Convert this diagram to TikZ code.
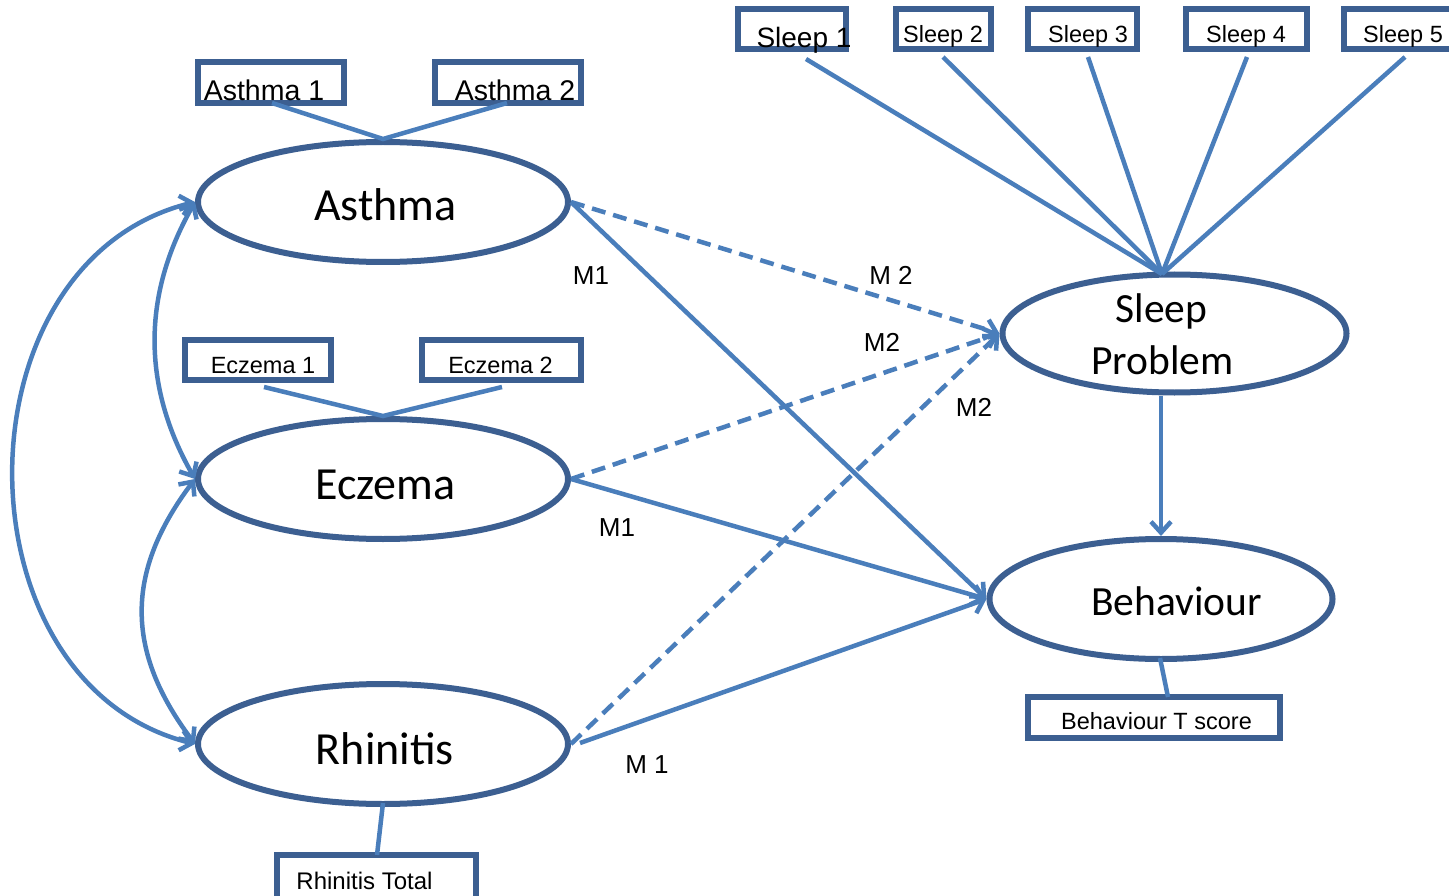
\documentclass[tikz,border=0pt]{standalone}
\usepackage{fontspec}
\setmainfont{Liberation Sans}
\newfontfamily\calfont{Carlito}
\usetikzlibrary{arrows.meta,shapes.geometric}
\definecolor{dk}{RGB}{60,95,145}
\definecolor{ln}{RGB}{74,126,187}
\begin{document}
\begin{tikzpicture}[x=1pt,y=-1pt,
  lat/.style={ellipse,draw=dk,line width=6pt,inner sep=0pt},
  obs/.style={rectangle,draw=dk,line width=5.5pt,inner sep=0pt},
  conn/.style={draw=ln,line width=4.5pt},
  tip/.tip={Straight Barb[length=11pt,width=20pt]},
  arr/.style={conn,-tip},
  bidir/.style={conn,tip-tip},
  dsh/.style={arr,dash pattern=on 14pt off 8pt},
  lbl/.style={anchor=base,inner sep=0pt,font=\fontsize{26}{30}\selectfont},
  btxt/.style={anchor=base,inner sep=0pt,font=\fontsize{23.5}{27}\selectfont},
  bigtxt/.style={anchor=base,inner sep=0pt,font=\fontsize{28.5}{32}\selectfont},
  etxt/.style={anchor=base,inner sep=0pt,font=\calfont\fontsize{46}{50}\selectfont},
  stxt/.style={anchor=base,inner sep=0pt,font=\calfont\fontsize{41.5}{45}\selectfont}]
\clip (0,0) rectangle (1449,896);
\fill[white] (0,0) rectangle (1449,896);

% latent ellipses
\node[lat,minimum width=370pt,minimum height=120pt] (asthma) at (383,202) {};
\node[lat,minimum width=370pt,minimum height=120pt] (eczema) at (383,479) {};
\node[lat,minimum width=370pt,minimum height=120pt] (rhinitis) at (383,744) {};
\node[lat,minimum width=344pt,minimum height=118pt] (sleep) at (1174.5,333.5) {};
\node[lat,minimum width=343pt,minimum height=120pt] (beh) at (1161,599) {};

\node[etxt] (asthmat) at (385.5,221) {Asthma};
\node[etxt] (eczemat) at (385.5,499) {Eczema};
\node[etxt] (rhinitist) at (385,764) {Rhinitis};
\node[stxt] (sleept1) at (1161.5,323) {Sleep};
\node[stxt] (sleept2) at (1162.5,374) {Problem};
\node[stxt] (beht) at (1176.5,615) {Behaviour};

% observed boxes
\node[obs,minimum width=108pt,minimum height=40pt] (s1) at (792,29) {};
\node[obs,minimum width=95pt,minimum height=40pt] (s2) at (943.5,29) {};
\node[obs,minimum width=109pt,minimum height=40pt] (s3) at (1082.5,29) {};
\node[obs,minimum width=121pt,minimum height=40pt] (s4) at (1246.5,29) {};
\node[obs,minimum width=126pt,minimum height=40pt] (s5) at (1407,29) {};
\node[obs,minimum width=146pt,minimum height=41pt] (a1) at (271,82.5) {};
\node[obs,minimum width=146pt,minimum height=41pt] (a2) at (508,82.5) {};
\node[obs,minimum width=146pt,minimum height=40pt] (e1) at (258,360) {};
\node[obs,minimum width=159pt,minimum height=40pt] (e2) at (501.5,360) {};
\node[obs,minimum width=252pt,minimum height=41pt] (bt) at (1154,717.5) {};
\node[obs,minimum width=199pt,minimum height=60pt] (rt) at (376.5,885) {};

\node[bigtxt,font=\fontsize{28}{32}\selectfont] (s1t) at (804,48) {Sleep 1};
\node[btxt] (s2t) at (943,43) {Sleep 2};
\node[btxt] (s3t) at (1088,43) {Sleep 3};
\node[btxt] (s4t) at (1246,43) {Sleep 4};
\node[btxt] (s5t) at (1403,43) {Sleep 5};
\node[bigtxt] (a1t) at (264,101) {Asthma 1};
\node[bigtxt] (a2t) at (515,101) {Asthma 2};
\node[btxt] (e1t) at (263,373) {Eczema 1};
\node[btxt] (e2t) at (500.5,373) {Eczema 2};
\node[btxt] (btt) at (1156.5,729) {Behaviour T score};
\node[btxt,font=\fontsize{24}{28}\selectfont] (rtt) at (364.5,889) {Rhinitis Total};

% indicator line end points
\coordinate (s1b) at (806,59);
\coordinate (s2b) at (943,57);
\coordinate (s3b) at (1088,57);
\coordinate (s4b) at (1247,57);
\coordinate (s5b) at (1405,57);
\coordinate (sp) at (1162,274);
\coordinate (a1b) at (272,103);
\coordinate (a2b) at (507,103);
\coordinate (e1b) at (264,387);
\coordinate (e2b) at (502,387);
\coordinate (behb) at (1160,658);
\coordinate (btt0) at (1168,697);
\coordinate (rhb) at (383,803);
\coordinate (rtt0) at (377,855);
\coordinate (rhe) at (580,743);

\foreach \c in {s1b,s2b,s3b,s4b,s5b} \draw[conn] (\c) -- (sp);
\draw[conn] (a1b) -- (asthma.north) -- (a2b);
\draw[conn] (e1b) -- (eczema.north) -- (e2b);
\draw[conn] (behb) -- (btt0);
\draw[conn] (rhb) -- (rtt0);

% structural paths
\draw[arr] (asthma.east) -- (beh.west);
\draw[arr] (eczema.east) -- (beh.west);
\draw[arr] (rhe) -- (beh.west);
\draw[dsh] (asthma.east) -- (sleep.west);
\draw[dsh] (eczema.east) -- (sleep.west);
\draw[dsh] (rhinitis.east) -- (sleep.west);
\draw[arr] (sleep.south -| beh.north) -- (beh.north);

% correlations
\draw[bidir] (asthma.west) .. controls (142,295) and (142,386) .. (eczema.west);
\draw[bidir] (eczema.west) .. controls (125,572) and (125,651) .. (rhinitis.west);
\draw[bidir] (asthma.west) .. controls (-47,262) and (-47,684) .. (rhinitis.west);

% labels
\node[lbl] (m1a) at (591,284) {M1};
\node[lbl] (m2a) at (891,284) {M 2};
\node[lbl] (m2b) at (882,351) {M2};
\node[lbl] (m2c) at (974,416) {M2};
\node[lbl] (m1b) at (617,536) {M1};
\node[lbl] (m1c) at (647,773) {M 1};
\end{tikzpicture}
\end{document}
